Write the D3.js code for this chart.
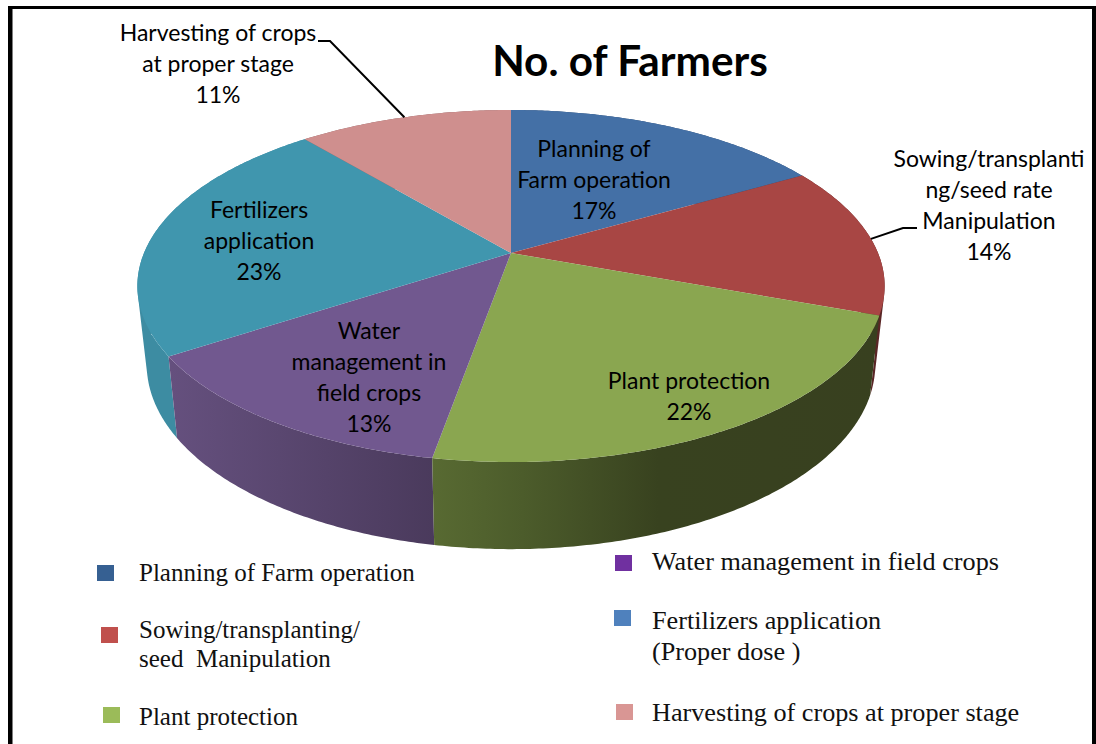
<!DOCTYPE html>
<html>
<head>
<meta charset="utf-8">
<script src="https://cdn.jsdelivr.net/npm/d3@7"></script>
<style>
  html, body { margin: 0; padding: 0; background: #fff; overflow: hidden; }
</style>
</head>
<body>
<div id="chart"></div>
<script>
// Chart data, the shares are estimated from the slice edges and round to the printed percentages
const sliceNames = ["Planning of Farm operation", "Sowing/transplanting/seed rate Manipulation", "Plant protection",
    "Water management in field crops", "Fertilizers application", "Harvesting of crops at proper stage"];
const sliceValues = [16.7, 13.9, 22.2, 13.0, 23.1, 11.1];

// Text of the labels on the pie, one entry per line
const sliceLabels = [
    ["Planning of", "Farm operation"],
    ["Sowing/transplanti", "ng/seed rate", "Manipulation"],
    ["Plant protection"],
    ["Water", "management in", "field crops"],
    ["Fertilizers", "application"],
    ["Harvesting of crops", "at proper stage"]
];

const legendTexts = [
    ["Planning of Farm operation"],
    ["Sowing/transplanting/", "seed  Manipulation"],
    ["Plant protection"],
    ["Water management in field crops"],
    ["Fertilizers application", "(Proper dose )"],
    ["Harvesting of crops at proper stage"]
];

// Colours
const topColors = ["#4470a6", "#a84644", "#8aa650", "#71588f", "#4096ae", "#cf8f8e"];
const legendColors = ["#366092", "#c0504d", "#9bbb59", "#7030a0", "#4f81bd", "#d99694"];
const wallStops = [
    ["#2c4a70", "#2c4a70"],
    ["#5a2626", "#5a2626"],
    ["#586a32", "#4c5c2b", "#38421f", "#38401f"],
    ["#65507e", "#4a3a5c"],
    ["#3d8ca2", "#3d8ca2"],
    ["#8a6060", "#8a6060"]
];

// Layout
const width = 1096;
const height = 744;
const pieCenterX = 511;
const apexY = 253;
const radiusX = 367;
const radiusY = 122.4;
const tilt = -0.1875;         // perspective of the top face
const wallShrink = 0.975;     // bottom rim is a bit narrower
const wallSlope = 1.05;
const wallOffset = 64;
const labelLine = 31;

// Centre x and first baseline of the labels
const labelAnchors = [[594, 157], [989, 167], [689, 389], [369, 339], [259, 218], [218, 41]];
// Square x, square y, text x, first baseline, line step and font size of the legend rows
const legendRows = [
    [97, 565, 139, 581, 29, 25],
    [101, 627, 139, 638, 29, 25],
    [103, 707, 139, 725, 29, 25],
    [615, 555, 652, 570, 31, 26.2],
    [614, 610, 652, 629, 31, 26.2],
    [616, 704, 652, 721, 31, 26.2]
];

const svg = d3.select("#chart").append("svg")
    .attr("width", width)
    .attr("height", height)
    .style("display", "block");

const defs = svg.append("defs");

// Maps a pie angle (0 at the top, clockwise) to the top rim of the disc
function rimPoint(angle, r = 1) {
    const u = Math.sin(angle) * r;
    const v = -Math.cos(angle) * r;
    const den = 1 + tilt * v;
    return [pieCenterX + radiusX * u / den, (radiusY * v + apexY) / den];
}

// Same point, moved down to the bottom rim
function lowerPoint(p) {
    return [pieCenterX + (p[0] - pieCenterX) * wallShrink, p[1] * wallSlope + wallOffset];
}

function sampleAngles(a0, a1) {
    const steps = Math.max(2, Math.ceil((a1 - a0) / 0.01));
    const stepScale = d3.scaleLinear().domain([0, steps]).range([a0, a1]);
    return d3.range(steps + 1).map(stepScale);
}

const line = d3.line();
const pie = d3.pie().sort(null).value(d => d);
const arcs = pie(sliceValues);

// Border of the picture, open at the bottom
const frame = svg.append("g").attr("fill", "#000");
frame.append("rect").attr("x", 8).attr("y", 6).attr("width", width - 8).attr("height", 3);
frame.append("rect").attr("x", 8).attr("y", 6).attr("width", 4.5).attr("height", height);
frame.append("rect").attr("x", 1092).attr("y", 6).attr("width", 4).attr("height", height);

// Wall gradients run across the whole disc
wallStops.forEach((stops, i) => {
    const grad = defs.append("linearGradient")
        .attr("id", `wall-${i}`)
        .attr("gradientUnits", "userSpaceOnUse")
        .attr("x1", i === 3 ? 170 : 432).attr("y1", 0)
        .attr("x2", i === 3 ? 435 : 885).attr("y2", 0);
    stops.forEach((c, j) => {
        grad.append("stop")
            .attr("offset", i === 2 ? [0, 0.2, 0.5, 1][j] : j / (stops.length - 1))
            .attr("stop-color", c);
    });
});

// Wall as small quads of the same winding, otherwise the fold at the silhouette leaves a hole
function wallPath(i) {
    const upper = sampleAngles(arcs[i].startAngle, arcs[i].endAngle).map(a => rimPoint(a));
    const lower = upper.map(lowerPoint);
    return d3.range(upper.length - 1).map(k => {
        const quad = [upper[k], upper[k + 1], lower[k + 1], lower[k]];
        if (d3.polygonArea(quad) < 0) quad.reverse();
        return line(quad) + "Z";
    }).join("");
}

// Walls first, back slices before front ones
const wallOrder = [0, 5, 1, 4, 3, 2];
svg.append("g").selectAll("path")
    .data(wallOrder)
    .join("path")
    .attr("fill", i => `url(#wall-${i})`)
    .attr("d", wallPath);

// Top faces
svg.append("g").selectAll("path")
    .data(arcs)
    .join("path")
    .attr("fill", (d, i) => topColors[i])
    .attr("d", d => {
        const rim = sampleAngles(d.startAngle, d.endAngle).map(a => rimPoint(a));
        return line([rimPoint(0, 0)].concat(rim)) + "Z";
    });

// Leader lines start from the middle of the slice rim
const midAngle = d => (d.startAngle + d.endAngle) / 2;
const leaderEnds = [[1, [[903, 228], [917, 228]]], [5, [[330, 41], [318, 41]]]];
svg.append("g").selectAll("path")
    .data(leaderEnds)
    .join("path")
    .attr("fill", "none")
    .attr("stroke", "#000")
    .attr("stroke-width", 2)
    .attr("d", d => line([rimPoint(midAngle(arcs[d[0]]))].concat(d[1])));

// Labels on the pie
const labels = svg.append("g")
    .attr("font-family", "Lato, sans-serif")
    .attr("font-size", 23)
    .attr("fill", "#000")
    .attr("text-anchor", "middle");

sliceLabels.forEach((lines, i) => {
    const rows = lines.concat(`${Math.round(sliceValues[i])}%`);
    labels.append("g").selectAll("text")
        .data(rows)
        .join("text")
        .attr("x", labelAnchors[i][0])
        .attr("y", (d, j) => labelAnchors[i][1] + j * labelLine)
        .text(d => d);
});

// Title
svg.append("text")
    .attr("x", 630)
    .attr("y", 76)
    .attr("text-anchor", "middle")
    .attr("font-family", "Lato, sans-serif")
    .attr("font-weight", 700)
    .attr("font-size", 42.3)
    .text("No. of Farmers");

// Legend
const legend = svg.append("g").selectAll("g")
    .data(legendTexts)
    .join("g")
    .attr("font-family", "'Liberation Serif', serif")
    .attr("font-size", (d, i) => legendRows[i][5])
    .attr("fill", "#111");

legend.append("rect")
    .attr("x", (d, i) => legendRows[i][0])
    .attr("y", (d, i) => legendRows[i][1])
    .attr("width", 17)
    .attr("height", 16)
    .attr("fill", (d, i) => legendColors[i]);

legend.each(function (rows, i) {
    d3.select(this).selectAll("text")
        .data(rows)
        .join("text")
        .attr("x", legendRows[i][2])
        .attr("y", (d, j) => legendRows[i][3] + j * legendRows[i][4])
        .style("white-space", "pre")
        .text(d => d);
});
</script>
</body>
</html>
